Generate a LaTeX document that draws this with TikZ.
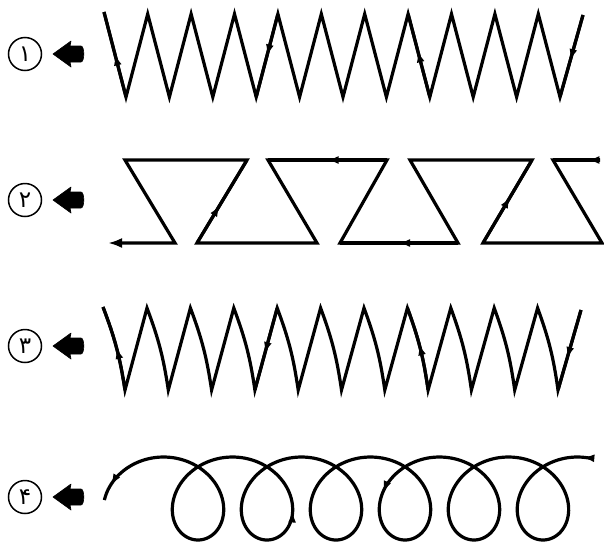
\documentclass[tikz,border=0pt]{standalone}
\usepackage{fontspec}
\newfontfamily\arabicfont[Script=Arabic]{DejaVu Sans}
\usetikzlibrary{arrows.meta,decorations.markings}
\tikzset{
  stroke/.style={line width=3.2pt, line join=miter, line cap=butt},
  midarrow/.style={postaction={decorate}, decoration={markings, mark=at position #1 with {\arrow{Latex[length=11pt,width=8pt]}}}},
  numcircle/.style={circle, draw, line width=1.5pt, minimum size=33pt, inner sep=0pt, font=\arabicfont\fontsize{23}{23}\selectfont},
  bigarrow/.style={fill=black, draw=black, line width=0.6pt, line join=round},
  declare function={tx(\t)=198+10.98*\t-41.5*sin(deg(\t)); ty(\t)=498.5+41.5*cos(deg(\t));}
}
\begin{document}
\begin{tikzpicture}[x=1pt,y=-1pt]
\useasboundingbox (0,0) rectangle (604,544);

% ---- labels and pointer arrows
\foreach \n/\y/\d in {1/54/۱, 2/200/۲, 3/346/۳, 4/497/۴}{
  \node[numcircle] (num\n) at (25,\y) {\d};
  \fill[bigarrow] (53,\y) -- (71,\y-13) -- (70,\y-8) -- (81,\y-8)
     to[out=0,in=0,looseness=0.6] (81,\y+8) -- (70,\y+8) -- (71,\y+13) -- cycle;
}

% ---- row 1: straight zigzag
\foreach \i in {0,...,10} \coordinate (B\i) at ({126+43.4*\i},97);
\foreach \i in {0,...,9} \coordinate (P\i) at ({147.7+43.4*\i},14);
\coordinate (S1) at (104,12);
\coordinate (E1) at (583,15);
\draw[stroke] (S1) -- (B0)
  \foreach[evaluate=\i as \j using int(\i+1)] \i in {0,...,9}{ -- (P\i) -- (B\j)} -- (E1);
\draw[stroke, midarrow=0.5] (B0) -- (S1);
\draw[stroke, midarrow=0.5] (P3) -- (B3);
\draw[stroke, midarrow=0.55] (B7) -- (P6);
\draw[stroke, midarrow=0.55] (E1) -- (B10);

% ---- row 2: Z path
\coordinate (R1) at (600,160);
\coordinate (R2) at (553,160);
\coordinate (R3) at (602,243);
\coordinate (R4) at (483,243);
\coordinate (R5) at (532,160);
\coordinate (R6) at (410,160);
\coordinate (R7) at (458,243);
\coordinate (R8) at (340,243);
\coordinate (R9) at (387,160);
\coordinate (R10) at (268,160);
\coordinate (R11) at (317,243);
\coordinate (R12) at (197,243);
\coordinate (R13) at (247,160);
\coordinate (R14) at (125,160);
\coordinate (R15) at (175,243);
\coordinate (R16) at (108,243);
\draw[stroke, -{Latex[length=14pt,width=10pt]}] (R1) -- (R2) -- (R3) -- (R4) -- (R5) -- (R6) -- (R7) -- (R8)
  -- (R9) -- (R10) -- (R11) -- (R12) -- (R13) -- (R14) -- (R15) -- (R16);
\draw[stroke, midarrow=0.25] (R1) -- (R2);
\draw[stroke, midarrow=0.55] (R4) -- (R5);
\draw[stroke, midarrow=0.5] (R7) -- (R8);
\draw[stroke, midarrow=0.5] (R9) -- (R10);
\draw[stroke, midarrow=0.45] (R12) -- (R13);

% ---- row 3: curved zigzag
\foreach \i in {0,...,10} \coordinate (C\i) at ({125+43.3*\i},390);
\foreach \i in {0,...,9} \coordinate (Q\i) at ({147+43.4*\i},308);
\coordinate (S3) at (103,307);
\coordinate (E3) at (581,310);
\draw[stroke] (S3) to[bend left=6] (C0)
  \foreach[evaluate=\i as \j using int(\i+1)] \i in {0,...,9}{ -- (Q\i) to[bend left=6] (C\j)} -- (E3);
\draw[stroke, midarrow=0.5] (C0) to[bend right=6] (S3);
\draw[stroke, midarrow=0.55] (Q3) -- (C3);
\draw[stroke, midarrow=0.55] (C7) to[bend right=6] (Q6);
\draw[stroke, midarrow=0.6] (E3) -- (C10);

% ---- row 4: loops
\draw[line width=3.2pt, line join=round] plot[domain=-4.75:34.84, samples=600, smooth, variable=\t]
  ({tx(\t)},{ty(\t)});
\path[midarrow=0.5, line width=3.2pt] ({tx(-4.30)},{ty(-4.30)}) -- ({tx(-4.45)},{ty(-4.45)});
\path[midarrow=0.5, line width=3.2pt] ({tx(5.08)},{ty(5.08)}) -- ({tx(4.98)},{ty(4.98)});
\path[midarrow=0.5, line width=3.2pt] ({tx(20.63)},{ty(20.63)}) -- ({tx(20.53)},{ty(20.53)});
\path[midarrow=0.5, line width=3.2pt] ({tx(34.72)},{ty(34.72)}) -- ({tx(34.62)},{ty(34.62)});
\end{tikzpicture}
\end{document}
